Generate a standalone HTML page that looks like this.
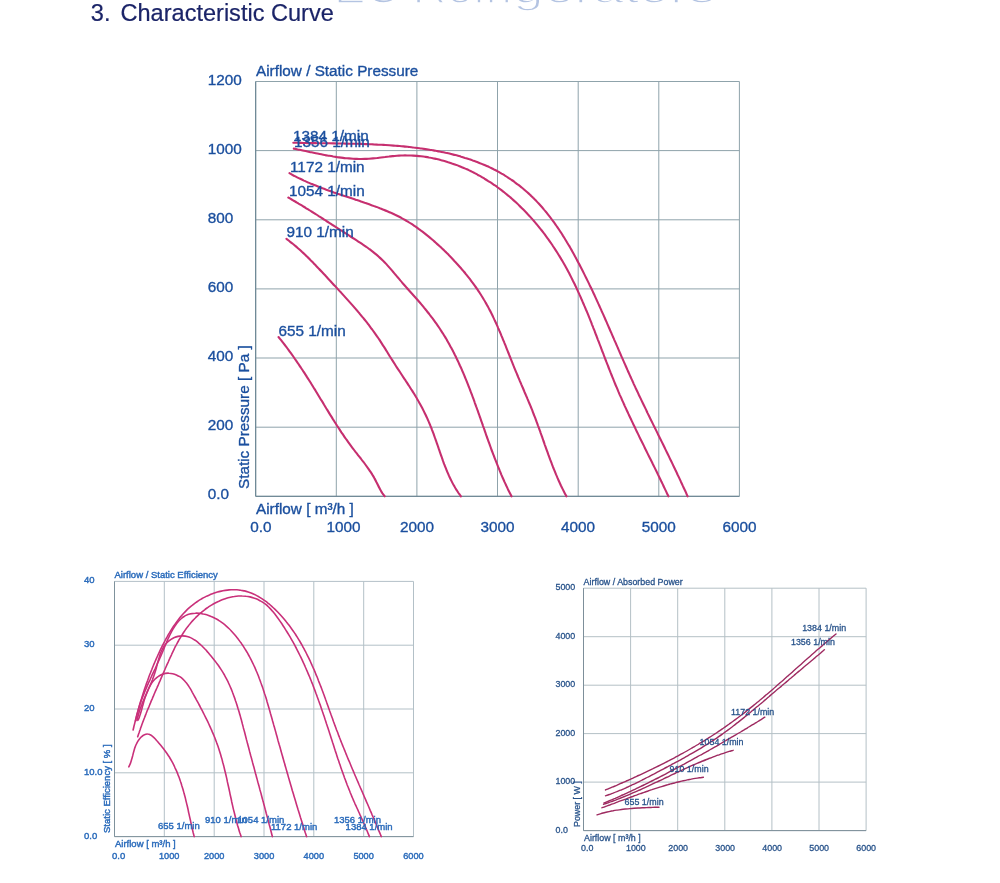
<!DOCTYPE html>
<html lang="en"><head><meta charset="utf-8"><title>Characteristic Curve</title>
<style>
html,body{margin:0;padding:0;background:#fff;}
body{width:1000px;height:883px;overflow:hidden;position:relative;font-family:"Liberation Sans",sans-serif;}
svg{position:absolute;left:0;top:0;display:block;}
svg text{font-family:"Liberation Sans",sans-serif;}
.g{stroke-width:1;fill:none;}
.c{fill:none;stroke-linecap:round;stroke-linejoin:round;}
</style></head><body>
<svg width="1000" height="883" viewBox="0 0 1000 883">

<text y="3.3" font-size="40" fill="#b4c4e2" stroke="#ffffff" stroke-width="1.5"><tspan x="334" textLength="178" lengthAdjust="spacingAndGlyphs">EC Refri</tspan><tspan x="513" textLength="203" lengthAdjust="spacingAndGlyphs">gerators</tspan></text>
<text y="21.3" font-size="23.55" fill="#1b2468" stroke="#1b2468" stroke-width="0.2"><tspan x="90.8">3.</tspan><tspan x="120.5">Characteristic Curve</tspan></text>

<g class="g" stroke="#8fa3ab">
<line x1="255.7" y1="81.5" x2="255.7" y2="496.3"/>
<line x1="336.3" y1="81.5" x2="336.3" y2="496.3"/>
<line x1="416.9" y1="81.5" x2="416.9" y2="496.3"/>
<line x1="497.5" y1="81.5" x2="497.5" y2="496.3"/>
<line x1="578.2" y1="81.5" x2="578.2" y2="496.3"/>
<line x1="658.8" y1="81.5" x2="658.8" y2="496.3"/>
<line x1="739.4" y1="81.5" x2="739.4" y2="496.3"/>
<line x1="255.7" y1="81.5" x2="739.4" y2="81.5"/>
<line x1="255.7" y1="150.6" x2="739.4" y2="150.6"/>
<line x1="255.7" y1="219.8" x2="739.4" y2="219.8"/>
<line x1="255.7" y1="288.9" x2="739.4" y2="288.9"/>
<line x1="255.7" y1="358.0" x2="739.4" y2="358.0"/>
<line x1="255.7" y1="427.2" x2="739.4" y2="427.2"/>
<line x1="255.7" y1="496.3" x2="739.4" y2="496.3"/>
</g>
<path class="g" stroke="#64808f" d="M255.7,81.5 V496.3 H739.4"/>
<g class="c" stroke="#c62f6f" stroke-width="2.1">
<path d="M293.3,142.7 C294.0,142.7 296.0,142.8 297.3,142.8 C298.7,142.8 300.0,142.9 301.3,142.9 C302.7,142.9 304.0,143.0 305.3,143.0 C306.7,143.0 308.0,143.0 309.4,143.1 C310.7,143.1 312.0,143.1 313.4,143.1 C314.7,143.1 316.0,143.2 317.4,143.2 C318.7,143.2 320.1,143.2 321.4,143.2 C322.7,143.3 324.1,143.3 325.4,143.3 C326.7,143.3 328.1,143.3 329.4,143.3 C330.7,143.4 332.1,143.4 333.4,143.4 C334.7,143.4 336.1,143.4 337.4,143.5 C338.8,143.5 340.1,143.5 341.4,143.5 C342.8,143.5 344.1,143.6 345.4,143.6 C346.8,143.6 348.1,143.6 349.4,143.7 C350.8,143.7 352.1,143.7 353.4,143.7 C354.8,143.8 356.1,143.8 357.4,143.8 C358.8,143.9 360.1,143.9 361.4,143.9 C362.8,144.0 364.1,144.0 365.5,144.1 C366.8,144.1 368.1,144.2 369.5,144.2 C370.8,144.3 372.1,144.3 373.5,144.4 C374.8,144.4 376.1,144.5 377.5,144.6 C378.8,144.6 380.1,144.7 381.5,144.8 C382.8,144.9 384.1,144.9 385.5,145.0 C386.8,145.1 388.1,145.2 389.5,145.3 C390.8,145.4 392.1,145.5 393.5,145.6 C394.8,145.7 396.2,145.8 397.5,145.9 C398.8,146.0 400.2,146.1 401.5,146.2 C402.8,146.3 404.2,146.5 405.5,146.6 C406.8,146.7 408.2,146.9 409.5,147.0 C410.8,147.2 412.2,147.3 413.5,147.5 C414.9,147.6 416.2,147.8 417.5,148.0 C418.9,148.2 420.2,148.3 421.5,148.5 C422.9,148.7 424.2,148.9 425.5,149.1 C426.9,149.3 428.2,149.5 429.5,149.7 C430.9,149.9 432.2,150.2 433.5,150.4 C434.9,150.6 436.2,150.9 437.5,151.1 C438.9,151.4 440.2,151.6 441.5,151.9 C442.8,152.2 444.2,152.5 445.5,152.8 C446.8,153.0 448.1,153.3 449.4,153.6 C450.7,154.0 452.0,154.3 453.4,154.6 C454.7,154.9 456.0,155.3 457.3,155.6 C458.6,156.0 459.9,156.3 461.1,156.7 C462.4,157.1 463.7,157.5 465.0,157.9 C466.3,158.2 467.6,158.7 468.8,159.1 C470.1,159.5 471.4,159.9 472.6,160.4 C473.9,160.8 475.1,161.3 476.4,161.7 C477.6,162.2 478.9,162.7 480.1,163.2 C481.4,163.7 482.6,164.2 483.8,164.7 C485.0,165.2 486.3,165.8 487.5,166.3 C488.7,166.9 489.9,167.4 491.1,168.0 C492.3,168.6 493.5,169.2 494.6,169.8 C495.8,170.4 497.0,171.0 498.1,171.6 C499.3,172.3 500.5,172.9 501.6,173.6 C502.8,174.3 503.9,174.9 505.0,175.6 C506.2,176.3 507.3,177.0 508.4,177.8 C509.5,178.5 510.6,179.2 511.7,180.0 C512.8,180.7 513.9,181.5 514.9,182.3 C516.0,183.1 517.1,183.9 518.1,184.7 C519.2,185.5 520.2,186.3 521.2,187.1 C522.3,188.0 523.3,188.8 524.3,189.7 C525.3,190.6 526.3,191.4 527.3,192.3 C528.3,193.2 529.3,194.1 530.3,195.0 C531.2,195.9 532.2,196.8 533.1,197.8 C534.1,198.7 535.0,199.7 536.0,200.6 C536.9,201.6 537.8,202.6 538.7,203.5 C539.6,204.5 540.5,205.5 541.4,206.5 C542.3,207.5 543.1,208.5 544.0,209.6 C544.9,210.6 545.7,211.6 546.6,212.6 C547.4,213.7 548.2,214.7 549.1,215.8 C549.9,216.8 550.7,217.9 551.5,219.0 C552.3,220.1 553.1,221.1 553.9,222.2 C554.7,223.3 555.4,224.4 556.2,225.5 C557.0,226.6 557.7,227.7 558.5,228.8 C559.2,229.9 560.0,231.1 560.7,232.2 C561.5,233.3 562.2,234.4 562.9,235.6 C563.6,236.7 564.3,237.9 565.0,239.0 C565.7,240.2 566.4,241.3 567.1,242.5 C567.8,243.6 568.5,244.8 569.2,245.9 C569.9,247.1 570.5,248.3 571.2,249.4 C571.9,250.6 572.5,251.8 573.2,253.0 C573.8,254.1 574.5,255.3 575.1,256.5 C575.8,257.7 576.4,258.9 577.0,260.1 C577.7,261.2 578.3,262.4 578.9,263.6 C579.6,264.8 580.2,266.0 580.8,267.2 C581.4,268.4 582.0,269.6 582.6,270.8 C583.2,272.0 583.8,273.2 584.4,274.4 C585.0,275.6 585.6,276.8 586.2,278.0 C586.8,279.2 587.4,280.4 588.0,281.6 C588.6,282.8 589.2,284.0 589.7,285.2 C590.3,286.4 590.9,287.6 591.5,288.8 C592.1,290.0 592.6,291.3 593.2,292.5 C593.8,293.7 594.3,294.9 594.9,296.1 C595.4,297.3 596.0,298.5 596.6,299.8 C597.1,301.0 597.7,302.2 598.2,303.4 C598.8,304.6 599.3,305.8 599.9,307.1 C600.4,308.3 601.0,309.5 601.5,310.7 C602.1,311.9 602.6,313.2 603.2,314.4 C603.7,315.6 604.2,316.8 604.8,318.0 C605.3,319.3 605.9,320.5 606.4,321.7 C606.9,322.9 607.5,324.2 608.0,325.4 C608.5,326.6 609.1,327.8 609.6,329.0 C610.1,330.3 610.7,331.5 611.2,332.7 C611.7,333.9 612.3,335.2 612.8,336.4 C613.3,337.6 613.9,338.8 614.4,340.1 C614.9,341.3 615.5,342.5 616.0,343.7 C616.5,345.0 617.1,346.2 617.6,347.4 C618.1,348.6 618.6,349.9 619.2,351.1 C619.7,352.3 620.2,353.5 620.8,354.8 C621.3,356.0 621.8,357.2 622.4,358.4 C622.9,359.7 623.5,360.9 624.0,362.1 C624.5,363.3 625.1,364.6 625.6,365.8 C626.2,367.0 626.7,368.2 627.2,369.4 C627.8,370.7 628.3,371.9 628.9,373.1 C629.4,374.3 630.0,375.5 630.5,376.8 C631.1,378.0 631.6,379.2 632.2,380.4 C632.7,381.6 633.3,382.8 633.8,384.1 C634.4,385.3 635.0,386.5 635.5,387.7 C636.1,388.9 636.7,390.1 637.2,391.3 C637.8,392.5 638.4,393.8 638.9,395.0 C639.5,396.2 640.1,397.4 640.7,398.6 C641.2,399.8 641.8,401.0 642.4,402.2 C643.0,403.4 643.5,404.6 644.1,405.8 C644.7,407.0 645.3,408.2 645.9,409.4 C646.5,410.7 647.0,411.9 647.6,413.1 C648.2,414.3 648.8,415.5 649.4,416.7 C650.0,417.9 650.6,419.1 651.1,420.3 C651.7,421.5 652.3,422.7 652.9,423.9 C653.5,425.1 654.1,426.3 654.7,427.5 C655.3,428.7 655.9,429.9 656.5,431.1 C657.1,432.3 657.6,433.5 658.2,434.7 C658.8,435.9 659.4,437.1 660.0,438.3 C660.6,439.5 661.2,440.7 661.8,441.9 C662.4,443.1 663.0,444.3 663.6,445.5 C664.2,446.7 664.7,447.9 665.3,449.1 C665.9,450.3 666.5,451.5 667.1,452.7 C667.7,454.0 668.3,455.2 668.9,456.4 C669.4,457.6 670.0,458.8 670.6,460.0 C671.2,461.2 671.8,462.4 672.4,463.6 C672.9,464.8 673.5,466.0 674.1,467.2 C674.7,468.4 675.3,469.6 675.8,470.8 C676.4,472.0 677.0,473.2 677.5,474.5 C678.1,475.7 678.7,476.9 679.3,478.1 C679.8,479.3 680.4,480.5 680.9,481.7 C681.5,482.9 682.1,484.1 682.6,485.4 C683.2,486.6 683.7,487.8 684.3,489.0 C684.9,490.2 685.4,491.4 686.0,492.6 C686.5,493.9 687.3,495.7 687.6,496.3"/>
<path d="M293.8,148.6 C294.5,148.7 296.4,149.1 297.7,149.4 C299.0,149.7 300.4,149.9 301.7,150.2 C303.0,150.5 304.3,150.8 305.6,151.0 C306.9,151.3 308.2,151.6 309.5,151.9 C310.9,152.2 312.2,152.4 313.5,152.7 C314.8,153.0 316.1,153.3 317.4,153.5 C318.7,153.8 320.0,154.1 321.4,154.3 C322.7,154.6 324.0,154.8 325.3,155.1 C326.6,155.3 327.9,155.6 329.2,155.8 C330.6,156.0 331.9,156.2 333.2,156.5 C334.5,156.7 335.8,156.9 337.2,157.1 C338.5,157.2 339.8,157.4 341.1,157.6 C342.4,157.8 343.8,157.9 345.1,158.1 C346.4,158.2 347.7,158.3 349.0,158.4 C350.4,158.5 351.7,158.6 353.0,158.7 C354.3,158.8 355.7,158.9 357.0,158.9 C358.3,158.9 359.6,159.0 361.0,159.0 C362.3,159.0 363.6,159.0 365.0,158.9 C366.3,158.9 367.6,158.8 369.0,158.7 C370.3,158.6 371.6,158.5 373.0,158.4 C374.3,158.3 375.6,158.1 377.0,158.0 C378.3,157.8 379.6,157.7 381.0,157.5 C382.3,157.3 383.6,157.1 385.0,157.0 C386.3,156.8 387.7,156.6 389.0,156.5 C390.3,156.3 391.7,156.2 393.0,156.1 C394.4,155.9 395.7,155.8 397.0,155.7 C398.4,155.6 399.7,155.6 401.0,155.5 C402.4,155.5 403.7,155.4 405.0,155.4 C406.4,155.4 407.7,155.5 409.0,155.5 C410.4,155.5 411.7,155.6 413.0,155.6 C414.4,155.7 415.7,155.8 417.0,155.9 C418.3,156.0 419.7,156.2 421.0,156.3 C422.3,156.5 423.6,156.7 424.9,156.8 C426.2,157.0 427.6,157.2 428.9,157.5 C430.2,157.7 431.5,157.9 432.8,158.2 C434.1,158.5 435.4,158.7 436.7,159.0 C438.0,159.3 439.3,159.6 440.6,160.0 C441.8,160.3 443.1,160.7 444.4,161.0 C445.7,161.4 447.0,161.8 448.2,162.2 C449.5,162.6 450.8,163.0 452.0,163.4 C453.3,163.8 454.5,164.3 455.8,164.8 C457.0,165.2 458.3,165.7 459.5,166.2 C460.7,166.7 462.0,167.2 463.2,167.7 C464.4,168.2 465.6,168.8 466.9,169.3 C468.1,169.9 469.3,170.4 470.5,171.0 C471.7,171.6 472.9,172.2 474.1,172.8 C475.2,173.4 476.4,174.0 477.6,174.7 C478.8,175.3 479.9,176.0 481.1,176.6 C482.2,177.3 483.4,178.0 484.5,178.7 C485.7,179.3 486.8,180.0 487.9,180.8 C489.0,181.5 490.2,182.2 491.3,182.9 C492.4,183.7 493.5,184.4 494.6,185.2 C495.7,185.9 496.8,186.7 497.8,187.5 C498.9,188.3 500.0,189.1 501.1,189.9 C502.1,190.7 503.2,191.5 504.2,192.3 C505.3,193.2 506.3,194.0 507.3,194.9 C508.4,195.7 509.4,196.6 510.4,197.4 C511.4,198.3 512.4,199.2 513.4,200.1 C514.4,201.0 515.4,201.9 516.4,202.8 C517.4,203.7 518.4,204.6 519.3,205.6 C520.3,206.5 521.2,207.4 522.2,208.4 C523.1,209.3 524.1,210.3 525.0,211.2 C526.0,212.2 526.9,213.2 527.8,214.2 C528.7,215.1 529.6,216.1 530.5,217.1 C531.4,218.1 532.3,219.1 533.2,220.1 C534.1,221.2 535.0,222.2 535.8,223.2 C536.7,224.2 537.6,225.3 538.4,226.3 C539.3,227.4 540.1,228.4 540.9,229.5 C541.8,230.5 542.6,231.6 543.4,232.7 C544.2,233.7 545.0,234.8 545.8,235.9 C546.6,237.0 547.4,238.1 548.2,239.1 C549.0,240.2 549.8,241.3 550.5,242.4 C551.3,243.5 552.1,244.7 552.8,245.8 C553.6,246.9 554.3,248.0 555.0,249.1 C555.8,250.3 556.5,251.4 557.2,252.5 C557.9,253.6 558.6,254.8 559.3,255.9 C560.0,257.1 560.7,258.2 561.4,259.4 C562.1,260.5 562.7,261.7 563.4,262.8 C564.1,264.0 564.7,265.1 565.4,266.3 C566.0,267.5 566.7,268.6 567.3,269.8 C567.9,271.0 568.6,272.2 569.2,273.3 C569.8,274.5 570.4,275.7 571.0,276.9 C571.6,278.1 572.2,279.3 572.8,280.5 C573.4,281.6 574.0,282.8 574.6,284.0 C575.1,285.2 575.7,286.4 576.3,287.6 C576.8,288.8 577.4,290.0 578.0,291.3 C578.5,292.5 579.1,293.7 579.6,294.9 C580.2,296.1 580.7,297.3 581.2,298.5 C581.8,299.7 582.3,301.0 582.8,302.2 C583.4,303.4 583.9,304.6 584.4,305.9 C584.9,307.1 585.4,308.3 585.9,309.5 C586.5,310.8 587.0,312.0 587.5,313.2 C588.0,314.5 588.5,315.7 589.0,316.9 C589.5,318.2 590.0,319.4 590.5,320.6 C591.0,321.9 591.5,323.1 591.9,324.3 C592.4,325.6 592.9,326.8 593.4,328.1 C593.9,329.3 594.4,330.6 594.9,331.8 C595.3,333.0 595.8,334.3 596.3,335.5 C596.8,336.8 597.3,338.0 597.7,339.3 C598.2,340.5 598.7,341.8 599.2,343.0 C599.6,344.2 600.1,345.5 600.6,346.7 C601.1,348.0 601.5,349.2 602.0,350.5 C602.5,351.7 603.0,353.0 603.5,354.2 C603.9,355.5 604.4,356.7 604.9,358.0 C605.4,359.2 605.9,360.5 606.3,361.7 C606.8,362.9 607.3,364.2 607.8,365.4 C608.3,366.7 608.8,367.9 609.2,369.2 C609.7,370.4 610.2,371.6 610.7,372.9 C611.2,374.1 611.7,375.4 612.2,376.6 C612.7,377.8 613.2,379.1 613.7,380.3 C614.2,381.6 614.7,382.8 615.2,384.0 C615.7,385.3 616.3,386.5 616.8,387.7 C617.3,389.0 617.8,390.2 618.3,391.4 C618.9,392.6 619.4,393.9 619.9,395.1 C620.5,396.3 621.0,397.5 621.6,398.8 C622.1,400.0 622.6,401.2 623.2,402.4 C623.7,403.6 624.3,404.9 624.8,406.1 C625.4,407.3 625.9,408.5 626.5,409.7 C627.1,410.9 627.6,412.1 628.2,413.4 C628.8,414.6 629.3,415.8 629.9,417.0 C630.5,418.2 631.0,419.4 631.6,420.6 C632.2,421.8 632.7,423.0 633.3,424.2 C633.9,425.4 634.5,426.6 635.1,427.8 C635.6,429.1 636.2,430.3 636.8,431.5 C637.4,432.7 638.0,433.9 638.6,435.1 C639.1,436.3 639.7,437.5 640.3,438.7 C640.9,439.9 641.5,441.1 642.1,442.3 C642.7,443.5 643.3,444.7 643.9,445.9 C644.5,447.1 645.0,448.3 645.6,449.5 C646.2,450.7 646.8,451.9 647.4,453.1 C648.0,454.3 648.6,455.5 649.2,456.7 C649.8,457.9 650.4,459.1 651.0,460.3 C651.6,461.5 652.2,462.7 652.7,463.8 C653.3,465.0 653.9,466.2 654.5,467.4 C655.1,468.6 655.7,469.8 656.3,471.0 C656.9,472.2 657.5,473.4 658.0,474.6 C658.6,475.8 659.2,477.0 659.8,478.2 C660.4,479.4 661.0,480.6 661.5,481.8 C662.1,483.0 662.7,484.3 663.3,485.5 C663.8,486.7 664.4,487.9 665.0,489.1 C665.6,490.3 666.1,491.5 666.7,492.7 C667.3,493.9 668.1,495.7 668.4,496.3"/>
<path d="M289.5,173.2 C290.1,173.6 291.8,174.6 293.0,175.2 C294.2,175.8 295.4,176.5 296.6,177.1 C297.8,177.7 299.0,178.3 300.2,178.8 C301.4,179.4 302.6,180.0 303.9,180.6 C305.1,181.1 306.3,181.7 307.5,182.2 C308.8,182.7 310.0,183.3 311.2,183.8 C312.5,184.3 313.7,184.8 315.0,185.3 C316.2,185.8 317.5,186.3 318.7,186.8 C320.0,187.3 321.2,187.8 322.5,188.3 C323.7,188.7 325.0,189.2 326.3,189.7 C327.5,190.1 328.8,190.6 330.1,191.0 C331.4,191.5 332.6,191.9 333.9,192.4 C335.2,192.8 336.5,193.2 337.7,193.7 C339.0,194.1 340.3,194.5 341.6,195.0 C342.9,195.4 344.1,195.8 345.4,196.3 C346.7,196.7 348.0,197.1 349.3,197.5 C350.5,198.0 351.8,198.4 353.1,198.8 C354.4,199.2 355.7,199.7 357.0,200.1 C358.2,200.5 359.5,201.0 360.8,201.4 C362.1,201.8 363.4,202.3 364.6,202.7 C365.9,203.1 367.2,203.6 368.4,204.0 C369.7,204.5 371.0,204.9 372.3,205.4 C373.5,205.8 374.8,206.3 376.0,206.8 C377.3,207.2 378.6,207.7 379.8,208.2 C381.1,208.7 382.3,209.2 383.6,209.7 C384.8,210.2 386.0,210.7 387.3,211.2 C388.5,211.7 389.7,212.2 391.0,212.8 C392.2,213.3 393.4,213.9 394.6,214.5 C395.8,215.0 397.0,215.6 398.2,216.2 C399.4,216.8 400.6,217.4 401.7,218.1 C402.9,218.7 404.0,219.3 405.2,220.0 C406.3,220.7 407.5,221.4 408.6,222.1 C409.8,222.8 410.9,223.5 412.0,224.2 C413.1,224.9 414.2,225.7 415.3,226.4 C416.4,227.2 417.5,228.0 418.6,228.8 C419.7,229.5 420.7,230.3 421.8,231.2 C422.9,232.0 423.9,232.8 425.0,233.6 C426.0,234.5 427.1,235.3 428.1,236.1 C429.2,237.0 430.2,237.9 431.2,238.7 C432.2,239.6 433.3,240.5 434.3,241.4 C435.3,242.3 436.3,243.2 437.3,244.1 C438.3,245.0 439.3,245.9 440.3,246.8 C441.3,247.7 442.3,248.7 443.3,249.6 C444.2,250.5 445.2,251.5 446.2,252.4 C447.1,253.4 448.1,254.3 449.0,255.3 C450.0,256.3 450.9,257.2 451.9,258.2 C452.8,259.2 453.7,260.2 454.6,261.2 C455.6,262.2 456.5,263.2 457.4,264.2 C458.3,265.2 459.2,266.2 460.1,267.2 C461.0,268.2 461.8,269.2 462.7,270.3 C463.6,271.3 464.4,272.3 465.3,273.3 C466.1,274.4 467.0,275.4 467.8,276.5 C468.7,277.5 469.5,278.6 470.3,279.6 C471.1,280.7 471.9,281.8 472.7,282.8 C473.5,283.9 474.3,285.0 475.1,286.1 C475.8,287.2 476.6,288.3 477.4,289.4 C478.1,290.5 478.8,291.6 479.6,292.7 C480.3,293.8 481.0,294.9 481.7,296.0 C482.4,297.2 483.1,298.3 483.8,299.5 C484.5,300.6 485.2,301.8 485.8,302.9 C486.5,304.1 487.1,305.2 487.8,306.4 C488.4,307.6 489.0,308.8 489.6,309.9 C490.3,311.1 490.9,312.3 491.5,313.5 C492.1,314.7 492.6,315.9 493.2,317.1 C493.8,318.3 494.4,319.6 494.9,320.8 C495.5,322.0 496.1,323.2 496.6,324.4 C497.2,325.7 497.7,326.9 498.2,328.1 C498.8,329.4 499.3,330.6 499.8,331.8 C500.4,333.1 500.9,334.3 501.4,335.6 C501.9,336.8 502.4,338.1 502.9,339.3 C503.4,340.6 504.0,341.8 504.5,343.1 C505.0,344.3 505.5,345.6 506.0,346.8 C506.5,348.1 507.0,349.4 507.5,350.6 C508.0,351.9 508.5,353.1 509.0,354.4 C509.5,355.6 510.0,356.9 510.5,358.1 C511.0,359.4 511.5,360.7 512.0,361.9 C512.5,363.2 513.0,364.4 513.5,365.7 C514.0,366.9 514.5,368.2 515.0,369.4 C515.5,370.7 516.0,371.9 516.6,373.1 C517.1,374.4 517.6,375.6 518.1,376.9 C518.6,378.1 519.2,379.3 519.7,380.6 C520.2,381.8 520.8,383.0 521.3,384.3 C521.8,385.5 522.3,386.7 522.9,388.0 C523.4,389.2 523.9,390.4 524.4,391.7 C525.0,392.9 525.5,394.1 526.0,395.4 C526.5,396.6 527.1,397.8 527.6,399.1 C528.1,400.3 528.6,401.5 529.1,402.8 C529.7,404.0 530.2,405.3 530.7,406.5 C531.2,407.7 531.7,409.0 532.2,410.2 C532.7,411.5 533.2,412.7 533.6,414.0 C534.1,415.2 534.6,416.5 535.1,417.7 C535.6,419.0 536.0,420.2 536.5,421.5 C537.0,422.7 537.4,424.0 537.9,425.3 C538.4,426.5 538.8,427.8 539.3,429.1 C539.7,430.3 540.2,431.6 540.6,432.8 C541.1,434.1 541.5,435.4 542.0,436.7 C542.4,437.9 542.9,439.2 543.3,440.5 C543.8,441.7 544.2,443.0 544.6,444.3 C545.1,445.5 545.5,446.8 546.0,448.1 C546.4,449.3 546.9,450.6 547.4,451.9 C547.8,453.1 548.3,454.4 548.7,455.7 C549.2,456.9 549.7,458.2 550.1,459.4 C550.6,460.7 551.1,462.0 551.6,463.2 C552.0,464.5 552.5,465.7 553.0,467.0 C553.5,468.2 554.0,469.5 554.5,470.7 C555.0,472.0 555.5,473.2 556.0,474.4 C556.6,475.7 557.1,476.9 557.6,478.2 C558.1,479.4 558.7,480.6 559.2,481.8 C559.8,483.1 560.4,484.3 560.9,485.5 C561.5,486.7 562.1,487.9 562.7,489.1 C563.3,490.3 563.9,491.5 564.5,492.7 C565.1,493.9 566.1,495.7 566.4,496.3"/>
<path d="M288.3,197.5 C288.8,197.8 290.6,198.8 291.7,199.5 C292.9,200.2 294.0,200.9 295.2,201.5 C296.3,202.2 297.5,202.9 298.6,203.6 C299.8,204.3 300.9,205.0 302.1,205.7 C303.2,206.4 304.4,207.1 305.5,207.8 C306.6,208.5 307.8,209.2 308.9,209.9 C310.1,210.6 311.2,211.3 312.3,212.0 C313.5,212.7 314.6,213.4 315.7,214.2 C316.9,214.9 318.0,215.6 319.1,216.3 C320.3,217.0 321.4,217.8 322.5,218.5 C323.6,219.2 324.8,219.9 325.9,220.6 C327.0,221.4 328.1,222.1 329.3,222.8 C330.4,223.5 331.5,224.3 332.6,225.0 C333.8,225.7 334.9,226.4 336.0,227.2 C337.2,227.9 338.3,228.6 339.4,229.4 C340.5,230.1 341.7,230.8 342.8,231.5 C343.9,232.2 345.0,233.0 346.2,233.7 C347.3,234.4 348.4,235.1 349.6,235.8 C350.7,236.6 351.8,237.3 352.9,238.0 C354.1,238.7 355.2,239.4 356.3,240.2 C357.4,240.9 358.6,241.6 359.7,242.4 C360.8,243.1 361.9,243.8 363.0,244.6 C364.1,245.3 365.2,246.1 366.3,246.9 C367.4,247.6 368.4,248.4 369.5,249.2 C370.6,250.0 371.6,250.8 372.7,251.6 C373.7,252.4 374.7,253.2 375.8,254.1 C376.8,254.9 377.8,255.8 378.8,256.7 C379.7,257.6 380.7,258.5 381.7,259.4 C382.6,260.3 383.6,261.3 384.5,262.2 C385.4,263.2 386.3,264.1 387.2,265.1 C388.1,266.1 389.0,267.1 389.9,268.1 C390.8,269.1 391.7,270.1 392.5,271.1 C393.4,272.2 394.3,273.2 395.1,274.2 C396.0,275.2 396.9,276.3 397.7,277.3 C398.6,278.3 399.5,279.4 400.3,280.4 C401.2,281.4 402.1,282.5 402.9,283.5 C403.8,284.5 404.7,285.5 405.6,286.5 C406.5,287.5 407.3,288.5 408.2,289.5 C409.1,290.5 410.0,291.5 410.9,292.5 C411.8,293.5 412.7,294.5 413.6,295.5 C414.5,296.5 415.4,297.5 416.3,298.5 C417.2,299.5 418.1,300.5 418.9,301.5 C419.8,302.6 420.7,303.6 421.6,304.6 C422.4,305.6 423.3,306.7 424.1,307.7 C425.0,308.7 425.8,309.8 426.7,310.8 C427.5,311.9 428.4,313.0 429.2,314.0 C430.0,315.1 430.8,316.1 431.6,317.2 C432.5,318.3 433.3,319.4 434.0,320.4 C434.8,321.5 435.6,322.6 436.4,323.7 C437.2,324.8 437.9,325.9 438.7,327.0 C439.4,328.1 440.2,329.2 440.9,330.4 C441.6,331.5 442.4,332.6 443.1,333.7 C443.8,334.9 444.5,336.0 445.2,337.1 C445.9,338.3 446.5,339.4 447.2,340.6 C447.9,341.7 448.5,342.9 449.2,344.1 C449.8,345.2 450.5,346.4 451.1,347.6 C451.7,348.7 452.3,349.9 453.0,351.1 C453.6,352.3 454.2,353.5 454.8,354.7 C455.4,355.8 456.0,357.0 456.5,358.2 C457.1,359.4 457.7,360.6 458.3,361.9 C458.8,363.1 459.4,364.3 459.9,365.5 C460.5,366.7 461.0,367.9 461.6,369.1 C462.1,370.4 462.6,371.6 463.2,372.8 C463.7,374.0 464.2,375.3 464.7,376.5 C465.2,377.7 465.7,379.0 466.2,380.2 C466.7,381.5 467.2,382.7 467.7,383.9 C468.2,385.2 468.7,386.4 469.2,387.7 C469.7,388.9 470.2,390.2 470.6,391.4 C471.1,392.7 471.6,393.9 472.1,395.2 C472.5,396.5 473.0,397.7 473.5,399.0 C473.9,400.2 474.4,401.5 474.8,402.8 C475.3,404.0 475.8,405.3 476.2,406.6 C476.7,407.8 477.1,409.1 477.6,410.4 C478.0,411.6 478.5,412.9 478.9,414.2 C479.4,415.4 479.8,416.7 480.3,418.0 C480.7,419.2 481.1,420.5 481.6,421.8 C482.0,423.1 482.5,424.3 482.9,425.6 C483.4,426.9 483.8,428.1 484.3,429.4 C484.7,430.7 485.1,431.9 485.6,433.2 C486.0,434.5 486.5,435.8 486.9,437.0 C487.4,438.3 487.8,439.6 488.3,440.8 C488.8,442.1 489.2,443.4 489.7,444.6 C490.1,445.9 490.6,447.1 491.0,448.4 C491.5,449.7 492.0,450.9 492.4,452.2 C492.9,453.4 493.4,454.7 493.9,455.9 C494.3,457.2 494.8,458.5 495.3,459.7 C495.8,461.0 496.3,462.2 496.8,463.4 C497.3,464.7 497.8,465.9 498.3,467.2 C498.8,468.4 499.3,469.6 499.8,470.9 C500.3,472.1 500.8,473.3 501.3,474.6 C501.9,475.8 502.4,477.0 502.9,478.3 C503.5,479.5 504.0,480.7 504.5,481.9 C505.1,483.1 505.7,484.3 506.2,485.5 C506.8,486.7 507.4,488.0 507.9,489.2 C508.5,490.4 509.1,491.5 509.7,492.7 C510.3,493.9 511.2,495.7 511.5,496.3"/>
<path d="M286.4,238.8 C286.9,239.2 288.6,240.4 289.6,241.3 C290.7,242.1 291.8,242.9 292.8,243.8 C293.8,244.6 294.9,245.5 295.9,246.4 C296.9,247.3 297.9,248.1 298.9,249.0 C299.9,249.9 300.9,250.8 301.9,251.8 C302.9,252.7 303.9,253.6 304.9,254.5 C305.8,255.4 306.8,256.4 307.8,257.3 C308.7,258.3 309.7,259.2 310.6,260.2 C311.6,261.1 312.5,262.1 313.4,263.0 C314.4,264.0 315.3,265.0 316.2,265.9 C317.2,266.9 318.1,267.9 319.0,268.9 C320.0,269.8 320.9,270.8 321.8,271.8 C322.7,272.8 323.6,273.8 324.6,274.8 C325.5,275.8 326.4,276.7 327.3,277.7 C328.2,278.7 329.1,279.7 330.1,280.7 C331.0,281.7 331.9,282.7 332.8,283.7 C333.7,284.7 334.7,285.6 335.6,286.6 C336.5,287.6 337.4,288.6 338.3,289.6 C339.2,290.6 340.1,291.6 341.1,292.6 C342.0,293.6 342.9,294.6 343.8,295.6 C344.7,296.6 345.6,297.6 346.5,298.6 C347.4,299.6 348.3,300.6 349.2,301.6 C350.1,302.6 351.0,303.6 351.9,304.6 C352.8,305.6 353.7,306.6 354.5,307.6 C355.4,308.7 356.3,309.7 357.2,310.7 C358.0,311.7 358.9,312.7 359.8,313.8 C360.6,314.8 361.5,315.8 362.3,316.9 C363.2,317.9 364.0,318.9 364.9,320.0 C365.7,321.0 366.5,322.1 367.4,323.1 C368.2,324.2 369.0,325.2 369.8,326.3 C370.6,327.4 371.4,328.5 372.2,329.5 C373.0,330.6 373.8,331.7 374.6,332.8 C375.4,333.9 376.2,335.0 376.9,336.1 C377.7,337.2 378.4,338.3 379.2,339.4 C379.9,340.5 380.6,341.6 381.4,342.8 C382.1,343.9 382.8,345.0 383.5,346.2 C384.3,347.3 385.0,348.5 385.7,349.6 C386.4,350.7 387.1,351.9 387.8,353.0 C388.5,354.2 389.2,355.3 389.9,356.5 C390.7,357.6 391.4,358.8 392.1,359.9 C392.8,361.1 393.5,362.2 394.3,363.3 C395.0,364.5 395.7,365.6 396.4,366.7 C397.2,367.9 397.9,369.0 398.7,370.1 C399.4,371.2 400.2,372.4 400.9,373.5 C401.6,374.6 402.4,375.7 403.1,376.9 C403.9,378.0 404.6,379.1 405.4,380.2 C406.1,381.4 406.9,382.5 407.6,383.6 C408.3,384.8 409.1,385.9 409.8,387.0 C410.5,388.1 411.2,389.3 412.0,390.4 C412.7,391.6 413.4,392.7 414.1,393.8 C414.8,395.0 415.5,396.1 416.2,397.3 C416.9,398.4 417.5,399.6 418.2,400.8 C418.9,401.9 419.5,403.1 420.2,404.3 C420.8,405.4 421.4,406.6 422.1,407.8 C422.7,409.0 423.3,410.2 423.9,411.4 C424.5,412.6 425.1,413.8 425.7,415.0 C426.2,416.2 426.8,417.4 427.4,418.6 C427.9,419.9 428.5,421.1 429.0,422.3 C429.5,423.5 430.0,424.8 430.5,426.0 C431.1,427.3 431.5,428.5 432.0,429.8 C432.5,431.0 433.0,432.3 433.5,433.6 C433.9,434.8 434.4,436.1 434.8,437.4 C435.3,438.6 435.7,439.9 436.2,441.2 C436.6,442.5 437.1,443.8 437.5,445.0 C437.9,446.3 438.4,447.6 438.8,448.9 C439.3,450.2 439.7,451.4 440.1,452.7 C440.6,454.0 441.0,455.3 441.5,456.5 C441.9,457.8 442.4,459.1 442.8,460.4 C443.3,461.6 443.7,462.9 444.2,464.2 C444.7,465.4 445.2,466.7 445.7,467.9 C446.2,469.2 446.7,470.4 447.2,471.7 C447.7,472.9 448.3,474.1 448.8,475.4 C449.4,476.6 449.9,477.8 450.5,479.0 C451.1,480.2 451.7,481.4 452.3,482.6 C452.9,483.8 453.6,485.0 454.3,486.1 C454.9,487.3 455.6,488.5 456.3,489.6 C457.0,490.7 457.8,491.9 458.5,493.0 C459.3,494.1 460.5,495.7 460.9,496.3"/>
<path d="M278.5,337.0 C278.9,337.5 280.2,339.1 281.1,340.2 C281.9,341.3 282.7,342.3 283.6,343.4 C284.4,344.5 285.2,345.6 286.1,346.6 C286.9,347.7 287.7,348.8 288.5,349.9 C289.3,351.0 290.1,352.1 290.9,353.2 C291.7,354.3 292.5,355.4 293.3,356.5 C294.1,357.6 294.8,358.8 295.6,359.9 C296.4,361.0 297.2,362.1 297.9,363.2 C298.7,364.4 299.5,365.5 300.2,366.6 C301.0,367.8 301.7,368.9 302.5,370.0 C303.2,371.2 304.0,372.3 304.7,373.4 C305.4,374.6 306.2,375.7 306.9,376.9 C307.6,378.0 308.4,379.2 309.1,380.3 C309.8,381.5 310.6,382.6 311.3,383.8 C312.0,384.9 312.7,386.1 313.4,387.2 C314.2,388.4 314.9,389.6 315.6,390.7 C316.3,391.9 317.0,393.0 317.7,394.2 C318.4,395.4 319.1,396.5 319.8,397.7 C320.5,398.9 321.2,400.0 322.0,401.2 C322.7,402.3 323.4,403.5 324.1,404.7 C324.8,405.8 325.5,407.0 326.2,408.2 C326.9,409.3 327.6,410.5 328.3,411.6 C329.0,412.8 329.7,414.0 330.4,415.1 C331.2,416.3 331.9,417.4 332.6,418.6 C333.3,419.7 334.0,420.9 334.7,422.0 C335.5,423.2 336.2,424.3 336.9,425.5 C337.7,426.6 338.4,427.7 339.2,428.9 C339.9,430.0 340.6,431.1 341.4,432.3 C342.2,433.4 342.9,434.5 343.7,435.6 C344.4,436.8 345.2,437.9 346.0,439.0 C346.8,440.1 347.6,441.2 348.4,442.3 C349.2,443.4 350.0,444.5 350.8,445.6 C351.6,446.7 352.4,447.8 353.2,448.8 C354.1,449.9 354.9,451.0 355.7,452.1 C356.6,453.1 357.4,454.2 358.2,455.3 C359.1,456.4 359.9,457.4 360.8,458.5 C361.6,459.6 362.4,460.7 363.2,461.7 C364.1,462.8 364.9,463.9 365.7,465.0 C366.5,466.1 367.3,467.2 368.1,468.3 C368.9,469.4 369.6,470.5 370.4,471.7 C371.1,472.8 371.9,473.9 372.6,475.1 C373.3,476.2 374.0,477.4 374.6,478.6 C375.3,479.8 375.9,481.0 376.5,482.2 C377.2,483.4 377.7,484.7 378.3,485.9 C379.0,487.1 379.5,488.4 380.2,489.5 C380.9,490.7 381.5,491.9 382.3,493.1 C383.1,494.2 384.4,495.8 384.8,496.3"/>
</g>
<g fill="#1b4f9e" font-size="15.3" stroke="#1b4f9e" stroke-width="0.35">
<text x="256" y="76" >Airflow / Static Pressure</text>
<text x="207.7" y="84.8" >1200</text>
<text x="207.7" y="153.8" >1000</text>
<text x="207.7" y="222.8" >800</text>
<text x="207.7" y="291.9" >600</text>
<text x="207.7" y="361" >400</text>
<text x="207.7" y="430" >200</text>
<text x="207.7" y="499.1" >0.0</text>
<text x="256" y="514" >Airflow [ m³/h ]</text>
<text x="250.2" y="532" >0.0</text>
<text x="326.5" y="532" >1000</text>
<text x="400" y="532" >2000</text>
<text x="480.5" y="532" >3000</text>
<text x="561" y="532" >4000</text>
<text x="641.8" y="532" >5000</text>
<text x="722.5" y="532" >6000</text>
<text x="0" y="0" transform="translate(249,489) rotate(-90)">Static Pressure [ Pa ]</text>
<text x="293" y="141.2" >1384 1/min</text>
<text x="294" y="147" >1356 1/min</text>
<text x="290" y="172" >1172 1/min</text>
<text x="289" y="195.5" >1054 1/min</text>
<text x="286.5" y="237" >910 1/min</text>
<text x="278.5" y="335.5" >655 1/min</text>
</g>
<g class="g" stroke="#b3c0c7">
<line x1="114.5" y1="581.4" x2="114.5" y2="836.6"/>
<line x1="164.3" y1="581.4" x2="164.3" y2="836.6"/>
<line x1="214.2" y1="581.4" x2="214.2" y2="836.6"/>
<line x1="264.0" y1="581.4" x2="264.0" y2="836.6"/>
<line x1="313.8" y1="581.4" x2="313.8" y2="836.6"/>
<line x1="363.7" y1="581.4" x2="363.7" y2="836.6"/>
<line x1="413.5" y1="581.4" x2="413.5" y2="836.6"/>
<line x1="114.5" y1="581.4" x2="413.5" y2="581.4"/>
<line x1="114.5" y1="645.2" x2="413.5" y2="645.2"/>
<line x1="114.5" y1="709.0" x2="413.5" y2="709.0"/>
<line x1="114.5" y1="772.8" x2="413.5" y2="772.8"/>
<line x1="114.5" y1="836.6" x2="413.5" y2="836.6"/>
</g>
<path class="g" stroke="#7f929c" d="M114.5,581.4 V836.6 H413.5"/>
<g class="c" stroke="#c9307a" stroke-width="1.6">
<path d="M133.1,730.0 C133.3,729.3 133.7,727.4 134.0,726.0 C134.4,724.7 134.7,723.4 135.0,722.1 C135.3,720.8 135.7,719.5 136.0,718.2 C136.3,716.9 136.7,715.6 137.0,714.3 C137.4,713.0 137.7,711.7 138.1,710.4 C138.4,709.1 138.8,707.9 139.1,706.6 C139.5,705.3 139.9,704.0 140.2,702.8 C140.6,701.5 141.0,700.2 141.4,699.0 C141.8,697.7 142.2,696.4 142.6,695.2 C143.0,693.9 143.4,692.7 143.8,691.4 C144.2,690.2 144.6,688.9 145.0,687.7 C145.5,686.4 145.9,685.2 146.3,683.9 C146.8,682.7 147.2,681.5 147.7,680.2 C148.1,679.0 148.6,677.8 149.0,676.5 C149.5,675.3 150.0,674.1 150.5,672.8 C150.9,671.6 151.4,670.4 151.9,669.2 C152.4,667.9 152.9,666.7 153.4,665.5 C153.9,664.3 154.5,663.0 155.0,661.8 C155.5,660.6 156.0,659.4 156.6,658.2 C157.1,656.9 157.7,655.7 158.2,654.5 C158.8,653.3 159.4,652.1 159.9,650.9 C160.5,649.6 161.1,648.4 161.7,647.2 C162.3,646.0 162.9,644.8 163.5,643.6 C164.1,642.4 164.8,641.2 165.4,640.0 C166.1,638.8 166.7,637.6 167.4,636.4 C168.0,635.2 168.7,634.0 169.4,632.9 C170.1,631.7 170.8,630.5 171.5,629.4 C172.3,628.2 173.0,627.1 173.7,626.0 C174.5,624.9 175.3,623.8 176.1,622.7 C176.9,621.6 177.7,620.5 178.5,619.4 C179.3,618.4 180.2,617.3 181.0,616.3 C181.9,615.3 182.8,614.3 183.7,613.3 C184.6,612.3 185.5,611.4 186.5,610.4 C187.4,609.5 188.4,608.6 189.4,607.7 C190.4,606.8 191.4,605.9 192.5,605.1 C193.5,604.2 194.6,603.4 195.7,602.6 C196.8,601.9 197.9,601.1 199.0,600.4 C200.2,599.7 201.3,599.0 202.5,598.3 C203.7,597.7 204.9,597.0 206.1,596.4 C207.3,595.8 208.6,595.3 209.8,594.8 C211.0,594.2 212.3,593.8 213.6,593.3 C214.8,592.9 216.1,592.5 217.4,592.1 C218.7,591.7 220.0,591.4 221.3,591.1 C222.6,590.8 223.9,590.6 225.2,590.4 C226.5,590.2 227.8,590.0 229.1,589.9 C230.4,589.8 231.7,589.8 233.0,589.7 C234.3,589.7 235.6,589.8 236.9,589.8 C238.2,589.9 239.4,590.1 240.7,590.2 C242.0,590.4 243.3,590.7 244.5,590.9 C245.7,591.2 247.0,591.6 248.2,592.0 C249.4,592.4 250.6,592.8 251.8,593.3 C253.0,593.8 254.2,594.3 255.4,594.9 C256.6,595.5 257.7,596.1 258.9,596.8 C260.0,597.5 261.1,598.2 262.2,598.9 C263.3,599.6 264.4,600.4 265.5,601.2 C266.6,602.0 267.7,602.9 268.7,603.7 C269.8,604.6 270.8,605.5 271.8,606.4 C272.8,607.3 273.8,608.2 274.8,609.1 C275.8,610.1 276.8,611.1 277.7,612.0 C278.7,613.0 279.6,614.0 280.5,615.0 C281.4,616.0 282.3,617.0 283.2,618.0 C284.1,619.1 284.9,620.1 285.8,621.1 C286.6,622.2 287.5,623.2 288.3,624.3 C289.1,625.3 289.9,626.4 290.7,627.5 C291.5,628.6 292.3,629.7 293.0,630.7 C293.8,631.8 294.5,632.9 295.3,634.0 C296.0,635.2 296.7,636.3 297.4,637.4 C298.1,638.5 298.8,639.7 299.5,640.8 C300.2,641.9 300.8,643.1 301.5,644.2 C302.2,645.4 302.8,646.6 303.4,647.7 C304.1,648.9 304.7,650.1 305.3,651.2 C305.9,652.4 306.5,653.6 307.1,654.8 C307.7,656.0 308.3,657.2 308.9,658.4 C309.5,659.6 310.0,660.8 310.6,662.0 C311.1,663.2 311.7,664.4 312.2,665.6 C312.8,666.9 313.3,668.1 313.9,669.3 C314.4,670.5 314.9,671.8 315.4,673.0 C315.9,674.2 316.4,675.5 317.0,676.7 C317.5,678.0 318.0,679.2 318.4,680.5 C318.9,681.7 319.4,683.0 319.9,684.2 C320.4,685.5 320.9,686.7 321.4,688.0 C321.8,689.2 322.3,690.5 322.8,691.8 C323.2,693.0 323.7,694.3 324.2,695.5 C324.6,696.8 325.1,698.1 325.5,699.3 C326.0,700.6 326.5,701.9 326.9,703.1 C327.4,704.4 327.8,705.7 328.3,706.9 C328.7,708.2 329.2,709.5 329.6,710.7 C330.1,712.0 330.6,713.3 331.0,714.5 C331.5,715.8 331.9,717.1 332.4,718.3 C332.8,719.6 333.3,720.9 333.7,722.1 C334.2,723.4 334.7,724.6 335.1,725.9 C335.6,727.2 336.1,728.4 336.5,729.7 C337.0,730.9 337.5,732.2 338.0,733.4 C338.4,734.7 338.9,735.9 339.4,737.2 C339.9,738.4 340.4,739.6 340.8,740.9 C341.3,742.1 341.8,743.4 342.3,744.6 C342.8,745.8 343.3,747.1 343.8,748.3 C344.3,749.5 344.8,750.8 345.3,752.0 C345.8,753.2 346.3,754.5 346.8,755.7 C347.3,756.9 347.8,758.1 348.3,759.4 C348.8,760.6 349.4,761.8 349.9,763.0 C350.4,764.3 350.9,765.5 351.4,766.7 C351.9,767.9 352.4,769.2 353.0,770.4 C353.5,771.6 354.0,772.8 354.5,774.0 C355.0,775.3 355.6,776.5 356.1,777.7 C356.6,778.9 357.1,780.1 357.7,781.4 C358.2,782.6 358.7,783.8 359.2,785.0 C359.8,786.2 360.3,787.4 360.8,788.7 C361.4,789.9 361.9,791.1 362.4,792.3 C362.9,793.5 363.5,794.8 364.0,796.0 C364.5,797.2 365.1,798.4 365.6,799.6 C366.1,800.9 366.6,802.1 367.2,803.3 C367.7,804.5 368.2,805.7 368.8,807.0 C369.3,808.2 369.8,809.4 370.3,810.6 C370.9,811.9 371.4,813.1 371.9,814.3 C372.5,815.6 373.0,816.8 373.5,818.0 C374.0,819.2 374.6,820.5 375.1,821.7 C375.6,822.9 376.1,824.2 376.6,825.4 C377.2,826.7 377.7,827.9 378.2,829.1 C378.7,830.4 379.2,831.6 379.8,832.9 C380.3,834.1 381.0,836.0 381.3,836.6"/>
<path d="M137.7,736.8 C137.9,736.2 138.5,734.3 139.0,733.0 C139.4,731.7 139.8,730.4 140.3,729.2 C140.7,727.9 141.2,726.7 141.6,725.4 C142.1,724.1 142.6,722.9 143.0,721.6 C143.5,720.4 144.0,719.1 144.5,717.8 C144.9,716.6 145.4,715.3 145.9,714.1 C146.4,712.8 146.9,711.6 147.4,710.3 C147.9,709.1 148.4,707.8 149.0,706.6 C149.5,705.4 150.0,704.1 150.5,702.9 C151.0,701.6 151.5,700.4 152.1,699.1 C152.6,697.9 153.1,696.7 153.7,695.4 C154.2,694.2 154.7,692.9 155.2,691.7 C155.8,690.5 156.3,689.2 156.9,688.0 C157.4,686.8 157.9,685.5 158.5,684.3 C159.0,683.1 159.5,681.8 160.1,680.6 C160.6,679.3 161.2,678.1 161.7,676.9 C162.2,675.6 162.8,674.4 163.3,673.2 C163.9,671.9 164.4,670.7 164.9,669.5 C165.5,668.2 166.0,667.0 166.5,665.8 C167.1,664.5 167.6,663.3 168.2,662.1 C168.7,660.9 169.2,659.6 169.8,658.4 C170.3,657.2 170.9,656.0 171.5,654.8 C172.0,653.5 172.6,652.3 173.2,651.1 C173.8,649.9 174.3,648.7 174.9,647.5 C175.5,646.4 176.2,645.2 176.8,644.0 C177.4,642.8 178.0,641.7 178.7,640.5 C179.4,639.3 180.0,638.2 180.7,637.1 C181.4,635.9 182.1,634.8 182.8,633.7 C183.5,632.6 184.3,631.5 185.0,630.4 C185.8,629.3 186.6,628.2 187.4,627.1 C188.2,626.1 189.0,625.0 189.9,624.0 C190.7,623.0 191.6,621.9 192.5,620.9 C193.4,619.9 194.3,618.9 195.3,618.0 C196.2,617.0 197.2,616.1 198.2,615.1 C199.2,614.2 200.3,613.3 201.4,612.4 C202.4,611.5 203.5,610.6 204.6,609.8 C205.7,608.9 206.9,608.1 208.0,607.3 C209.2,606.5 210.4,605.8 211.5,605.1 C212.7,604.3 214.0,603.7 215.2,603.0 C216.4,602.4 217.6,601.7 218.9,601.2 C220.1,600.6 221.4,600.1 222.7,599.6 C224.0,599.1 225.2,598.6 226.5,598.2 C227.8,597.8 229.1,597.5 230.4,597.2 C231.7,596.9 233.0,596.6 234.3,596.5 C235.6,596.3 237.0,596.1 238.3,596.0 C239.6,596.0 240.9,595.9 242.2,596.0 C243.5,596.0 244.8,596.1 246.1,596.3 C247.4,596.4 248.7,596.6 250.0,596.9 C251.2,597.2 252.5,597.6 253.7,598.0 C254.9,598.4 256.2,598.8 257.4,599.3 C258.5,599.9 259.7,600.4 260.8,601.1 C262.0,601.7 263.1,602.4 264.1,603.2 C265.2,603.9 266.2,604.8 267.2,605.6 C268.2,606.5 269.1,607.4 270.0,608.4 C270.9,609.3 271.8,610.3 272.7,611.4 C273.6,612.4 274.4,613.5 275.2,614.5 C276.0,615.6 276.8,616.7 277.6,617.8 C278.4,618.9 279.2,620.0 280.0,621.1 C280.7,622.2 281.5,623.3 282.3,624.5 C283.0,625.6 283.7,626.7 284.5,627.8 C285.2,629.0 285.9,630.1 286.6,631.3 C287.3,632.4 288.0,633.5 288.7,634.7 C289.4,635.9 290.1,637.0 290.8,638.2 C291.5,639.3 292.1,640.5 292.8,641.7 C293.4,642.9 294.1,644.0 294.7,645.2 C295.3,646.4 296.0,647.6 296.6,648.8 C297.2,650.0 297.8,651.2 298.4,652.4 C299.0,653.6 299.6,654.8 300.2,656.0 C300.8,657.2 301.4,658.4 302.0,659.6 C302.5,660.9 303.1,662.1 303.7,663.3 C304.2,664.5 304.8,665.8 305.3,667.0 C305.9,668.2 306.4,669.4 306.9,670.7 C307.5,671.9 308.0,673.2 308.5,674.4 C309.0,675.6 309.6,676.9 310.1,678.1 C310.6,679.4 311.1,680.6 311.6,681.9 C312.1,683.1 312.6,684.4 313.1,685.6 C313.6,686.9 314.0,688.2 314.5,689.4 C315.0,690.7 315.5,692.0 315.9,693.2 C316.4,694.5 316.9,695.7 317.3,697.0 C317.8,698.3 318.3,699.6 318.7,700.8 C319.2,702.1 319.6,703.4 320.1,704.6 C320.5,705.9 320.9,707.2 321.4,708.5 C321.8,709.7 322.3,711.0 322.7,712.3 C323.1,713.6 323.6,714.8 324.0,716.1 C324.4,717.4 324.9,718.7 325.3,720.0 C325.7,721.2 326.1,722.5 326.5,723.8 C327.0,725.1 327.4,726.4 327.8,727.6 C328.2,728.9 328.6,730.2 329.1,731.5 C329.5,732.8 329.9,734.0 330.3,735.3 C330.7,736.6 331.1,737.9 331.5,739.1 C331.9,740.4 332.4,741.7 332.8,743.0 C333.2,744.2 333.6,745.5 334.0,746.8 C334.4,748.1 334.8,749.3 335.2,750.6 C335.7,751.9 336.1,753.2 336.5,754.4 C336.9,755.7 337.3,757.0 337.7,758.2 C338.2,759.5 338.6,760.8 339.0,762.0 C339.4,763.3 339.9,764.6 340.3,765.8 C340.7,767.1 341.2,768.4 341.6,769.6 C342.1,770.9 342.5,772.1 343.0,773.4 C343.4,774.7 343.9,775.9 344.3,777.2 C344.8,778.4 345.2,779.7 345.7,780.9 C346.2,782.2 346.6,783.4 347.1,784.7 C347.6,785.9 348.1,787.2 348.6,788.4 C349.1,789.7 349.6,790.9 350.1,792.2 C350.6,793.4 351.1,794.7 351.6,795.9 C352.1,797.1 352.7,798.4 353.2,799.6 C353.7,800.8 354.3,802.1 354.8,803.3 C355.4,804.5 355.9,805.8 356.5,807.0 C357.0,808.2 357.6,809.5 358.2,810.7 C358.7,811.9 359.3,813.2 359.8,814.4 C360.4,815.6 361.0,816.8 361.5,818.1 C362.1,819.3 362.6,820.5 363.2,821.8 C363.7,823.0 364.3,824.2 364.8,825.5 C365.3,826.7 365.9,827.9 366.4,829.2 C366.9,830.4 367.4,831.6 367.9,832.9 C368.4,834.1 369.2,836.0 369.4,836.6"/>
<path d="M135.5,721.0 C135.6,720.3 136.1,718.3 136.4,716.9 C136.7,715.6 137.1,714.3 137.4,713.0 C137.8,711.6 138.1,710.3 138.5,709.0 C138.9,707.8 139.3,706.5 139.7,705.2 C140.1,703.9 140.6,702.7 141.0,701.4 C141.5,700.1 141.9,698.9 142.4,697.6 C142.9,696.4 143.4,695.2 143.9,693.9 C144.3,692.7 144.8,691.5 145.4,690.2 C145.9,689.0 146.4,687.8 146.9,686.6 C147.4,685.4 148.0,684.2 148.5,682.9 C149.1,681.7 149.6,680.5 150.2,679.3 C150.7,678.1 151.3,676.9 151.8,675.7 C152.4,674.5 152.9,673.3 153.5,672.1 C154.1,670.9 154.6,669.7 155.2,668.5 C155.7,667.3 156.3,666.1 156.9,664.8 C157.4,663.6 158.0,662.4 158.5,661.2 C159.1,660.0 159.6,658.7 160.2,657.5 C160.7,656.3 161.3,655.0 161.8,653.8 C162.3,652.6 162.9,651.3 163.4,650.0 C163.9,648.8 164.4,647.5 164.9,646.3 C165.5,645.0 166.0,643.7 166.5,642.5 C167.0,641.2 167.6,640.0 168.1,638.7 C168.7,637.5 169.3,636.2 169.9,635.0 C170.5,633.8 171.1,632.6 171.7,631.4 C172.4,630.2 173.0,629.0 173.8,627.9 C174.5,626.7 175.2,625.6 176.0,624.5 C176.8,623.4 177.7,622.3 178.5,621.3 C179.4,620.3 180.4,619.3 181.4,618.5 C182.3,617.6 183.4,616.8 184.5,616.2 C185.6,615.5 186.7,615.0 187.9,614.5 C189.1,614.1 190.3,613.8 191.5,613.6 C192.8,613.3 194.1,613.2 195.3,613.2 C196.6,613.1 198.0,613.2 199.3,613.3 C200.6,613.4 201.9,613.7 203.3,614.0 C204.6,614.2 205.9,614.6 207.3,615.0 C208.6,615.4 209.9,615.9 211.2,616.5 C212.5,617.0 213.7,617.6 215.0,618.3 C216.2,618.9 217.4,619.6 218.6,620.3 C219.8,621.1 220.9,621.8 222.0,622.6 C223.1,623.4 224.2,624.3 225.2,625.1 C226.2,626.0 227.2,626.9 228.2,627.8 C229.2,628.8 230.2,629.7 231.1,630.7 C232.0,631.7 232.9,632.7 233.8,633.7 C234.7,634.7 235.5,635.7 236.4,636.8 C237.2,637.8 238.0,638.9 238.8,639.9 C239.6,641.0 240.4,642.1 241.2,643.1 C241.9,644.2 242.7,645.3 243.4,646.4 C244.1,647.5 244.8,648.7 245.5,649.8 C246.2,650.9 246.9,652.0 247.6,653.2 C248.2,654.3 248.9,655.5 249.5,656.7 C250.1,657.8 250.7,659.0 251.3,660.2 C251.9,661.4 252.5,662.6 253.1,663.8 C253.6,665.0 254.2,666.2 254.8,667.4 C255.3,668.6 255.8,669.8 256.3,671.0 C256.9,672.3 257.4,673.5 257.9,674.7 C258.4,676.0 258.9,677.2 259.3,678.5 C259.8,679.7 260.3,681.0 260.7,682.3 C261.2,683.5 261.6,684.8 262.1,686.1 C262.5,687.3 263.0,688.6 263.4,689.9 C263.8,691.2 264.2,692.4 264.6,693.7 C265.1,695.0 265.5,696.3 265.9,697.6 C266.3,698.9 266.7,700.2 267.0,701.5 C267.4,702.8 267.8,704.1 268.2,705.4 C268.6,706.7 269.0,708.0 269.3,709.3 C269.7,710.6 270.1,711.9 270.4,713.2 C270.8,714.5 271.2,715.8 271.5,717.1 C271.9,718.4 272.3,719.7 272.6,721.0 C273.0,722.3 273.4,723.6 273.7,724.9 C274.1,726.2 274.4,727.4 274.8,728.7 C275.2,730.0 275.5,731.3 275.9,732.6 C276.2,733.9 276.6,735.2 277.0,736.5 C277.3,737.8 277.7,739.1 278.0,740.4 C278.4,741.7 278.8,743.0 279.1,744.3 C279.5,745.5 279.9,746.8 280.2,748.1 C280.6,749.4 280.9,750.7 281.3,752.0 C281.7,753.3 282.0,754.6 282.4,755.8 C282.7,757.1 283.1,758.4 283.5,759.7 C283.8,761.0 284.2,762.3 284.6,763.5 C284.9,764.8 285.3,766.1 285.7,767.4 C286.0,768.7 286.4,770.0 286.8,771.2 C287.1,772.5 287.5,773.8 287.9,775.1 C288.2,776.4 288.6,777.7 289.0,778.9 C289.3,780.2 289.7,781.5 290.1,782.8 C290.4,784.1 290.8,785.3 291.2,786.6 C291.6,787.9 291.9,789.2 292.3,790.5 C292.7,791.7 293.1,793.0 293.5,794.3 C293.8,795.6 294.2,796.9 294.6,798.1 C295.0,799.4 295.4,800.7 295.8,802.0 C296.1,803.3 296.5,804.5 296.9,805.8 C297.3,807.1 297.7,808.4 298.1,809.7 C298.5,810.9 298.9,812.2 299.3,813.5 C299.7,814.8 300.1,816.1 300.5,817.4 C300.9,818.6 301.3,819.9 301.7,821.2 C302.1,822.5 302.5,823.8 302.9,825.0 C303.3,826.3 303.7,827.6 304.1,828.9 C304.5,830.2 304.9,831.5 305.3,832.7 C305.8,834.0 306.4,836.0 306.6,836.6"/>
<path d="M137.0,720.5 C137.2,719.8 137.6,717.7 138.0,716.3 C138.3,714.9 138.7,713.6 139.1,712.2 C139.5,710.9 139.9,709.6 140.4,708.4 C140.8,707.1 141.3,705.8 141.8,704.6 C142.2,703.4 142.7,702.2 143.3,700.9 C143.8,699.7 144.3,698.5 144.8,697.4 C145.3,696.2 145.8,695.0 146.4,693.8 C146.9,692.6 147.4,691.5 148.0,690.3 C148.5,689.1 149.0,687.9 149.5,686.7 C150.1,685.5 150.6,684.3 151.1,683.1 C151.6,681.9 152.1,680.7 152.6,679.5 C153.0,678.2 153.5,677.0 153.9,675.7 C154.4,674.4 154.8,673.1 155.2,671.8 C155.6,670.4 156.0,669.1 156.4,667.7 C156.7,666.3 157.1,664.9 157.4,663.5 C157.8,662.2 158.2,660.8 158.6,659.4 C159.0,658.0 159.4,656.7 159.8,655.3 C160.3,654.0 160.7,652.7 161.3,651.5 C161.8,650.2 162.4,649.0 163.1,647.8 C163.8,646.7 164.5,645.6 165.3,644.6 C166.1,643.6 167.0,642.6 168.0,641.7 C168.9,640.9 170.0,640.1 171.0,639.4 C172.1,638.7 173.3,638.1 174.4,637.6 C175.6,637.1 176.8,636.7 178.0,636.4 C179.2,636.1 180.4,635.9 181.7,635.9 C182.9,635.8 184.1,635.9 185.3,636.1 C186.5,636.3 187.7,636.6 188.9,637.0 C190.1,637.4 191.3,638.0 192.4,638.6 C193.5,639.2 194.7,640.0 195.8,640.7 C196.9,641.5 198.0,642.4 199.0,643.3 C200.1,644.2 201.1,645.2 202.2,646.2 C203.2,647.2 204.2,648.2 205.2,649.3 C206.2,650.3 207.1,651.4 208.1,652.5 C209.0,653.6 209.9,654.7 210.8,655.7 C211.7,656.8 212.6,657.9 213.4,658.9 C214.3,660.0 215.1,661.0 215.9,662.1 C216.7,663.2 217.5,664.2 218.3,665.3 C219.0,666.4 219.8,667.5 220.5,668.6 C221.2,669.7 221.9,670.8 222.6,671.9 C223.3,673.0 223.9,674.1 224.6,675.3 C225.2,676.4 225.8,677.5 226.4,678.7 C227.0,679.9 227.6,681.0 228.2,682.2 C228.7,683.4 229.3,684.6 229.8,685.8 C230.3,687.0 230.9,688.2 231.4,689.4 C231.9,690.7 232.4,691.9 232.8,693.1 C233.3,694.4 233.8,695.6 234.2,696.9 C234.7,698.1 235.1,699.4 235.5,700.7 C236.0,701.9 236.4,703.2 236.8,704.5 C237.2,705.8 237.6,707.1 238.0,708.4 C238.4,709.6 238.8,710.9 239.2,712.2 C239.5,713.5 239.9,714.8 240.3,716.1 C240.6,717.4 241.0,718.7 241.4,720.0 C241.7,721.4 242.1,722.7 242.4,724.0 C242.8,725.3 243.1,726.6 243.4,727.9 C243.8,729.2 244.1,730.5 244.5,731.8 C244.8,733.1 245.2,734.5 245.5,735.8 C245.8,737.1 246.2,738.4 246.5,739.7 C246.9,741.0 247.2,742.3 247.5,743.6 C247.9,744.9 248.2,746.2 248.6,747.5 C248.9,748.8 249.3,750.1 249.6,751.4 C250.0,752.7 250.3,753.9 250.6,755.2 C251.0,756.5 251.3,757.8 251.7,759.1 C252.0,760.4 252.4,761.7 252.7,763.0 C253.1,764.3 253.4,765.6 253.8,766.8 C254.1,768.1 254.5,769.4 254.8,770.7 C255.1,772.0 255.5,773.3 255.8,774.6 C256.2,775.8 256.5,777.1 256.9,778.4 C257.2,779.7 257.6,781.0 257.9,782.3 C258.3,783.6 258.6,784.8 259.0,786.1 C259.3,787.4 259.7,788.7 260.0,790.0 C260.4,791.3 260.7,792.5 261.1,793.8 C261.4,795.1 261.7,796.4 262.1,797.7 C262.4,799.0 262.8,800.3 263.1,801.6 C263.5,802.8 263.8,804.1 264.2,805.4 C264.5,806.7 264.9,808.0 265.2,809.3 C265.6,810.6 265.9,811.9 266.2,813.2 C266.6,814.5 266.9,815.8 267.3,817.1 C267.6,818.3 268.0,819.6 268.3,820.9 C268.6,822.2 269.0,823.5 269.3,824.8 C269.7,826.1 270.0,827.4 270.4,828.8 C270.7,830.1 271.0,831.4 271.4,832.7 C271.7,834.0 272.2,835.9 272.4,836.6"/>
<path d="M138.2,720.0 C138.4,719.5 139.0,718.2 139.3,717.2 C139.7,716.2 140.1,715.1 140.4,713.9 C140.8,712.7 141.1,711.5 141.5,710.2 C141.9,708.9 142.2,707.5 142.6,706.1 C143.0,704.8 143.4,703.3 143.8,701.9 C144.2,700.5 144.6,699.1 145.1,697.6 C145.6,696.2 146.1,694.8 146.6,693.4 C147.1,692.0 147.7,690.6 148.3,689.2 C149.0,687.9 149.6,686.6 150.3,685.4 C151.0,684.1 151.8,682.9 152.6,681.8 C153.5,680.7 154.4,679.7 155.3,678.8 C156.3,677.9 157.3,677.0 158.4,676.3 C159.4,675.6 160.6,675.0 161.7,674.5 C162.9,674.0 164.1,673.6 165.3,673.4 C166.5,673.2 167.8,673.1 169.0,673.2 C170.3,673.2 171.5,673.4 172.7,673.7 C174.0,674.0 175.2,674.4 176.4,674.9 C177.5,675.4 178.7,676.0 179.8,676.7 C180.9,677.4 181.9,678.2 182.9,679.1 C183.9,680.0 184.8,681.0 185.6,682.0 C186.5,683.0 187.3,684.1 188.1,685.2 C188.8,686.3 189.6,687.5 190.3,688.7 C191.0,689.9 191.7,691.1 192.3,692.3 C193.0,693.5 193.7,694.7 194.3,696.0 C195.0,697.2 195.7,698.4 196.3,699.6 C197.0,700.8 197.6,702.0 198.3,703.2 C198.9,704.4 199.6,705.6 200.2,706.8 C200.8,708.0 201.5,709.2 202.1,710.4 C202.7,711.6 203.3,712.8 203.9,714.0 C204.5,715.2 205.1,716.4 205.7,717.6 C206.3,718.8 206.9,720.0 207.5,721.2 C208.1,722.4 208.6,723.6 209.2,724.8 C209.8,726.0 210.3,727.2 210.8,728.4 C211.4,729.7 211.9,730.9 212.4,732.1 C213.0,733.3 213.5,734.5 214.0,735.7 C214.5,737.0 215.0,738.2 215.4,739.4 C215.9,740.7 216.4,741.9 216.8,743.1 C217.3,744.4 217.7,745.6 218.2,746.9 C218.6,748.2 219.0,749.4 219.4,750.7 C219.8,751.9 220.2,753.2 220.6,754.5 C221.0,755.8 221.3,757.1 221.7,758.3 C222.1,759.6 222.4,760.9 222.7,762.2 C223.1,763.5 223.4,764.8 223.8,766.1 C224.1,767.4 224.4,768.7 224.7,770.0 C225.0,771.3 225.4,772.6 225.7,774.0 C226.0,775.3 226.3,776.6 226.6,777.9 C226.9,779.2 227.2,780.5 227.4,781.9 C227.7,783.2 228.0,784.5 228.3,785.8 C228.6,787.1 228.9,788.5 229.2,789.8 C229.5,791.1 229.7,792.4 230.0,793.8 C230.3,795.1 230.6,796.4 230.9,797.7 C231.2,799.0 231.5,800.4 231.7,801.7 C232.0,803.0 232.3,804.3 232.6,805.6 C232.9,807.0 233.2,808.3 233.5,809.6 C233.8,810.9 234.2,812.2 234.5,813.5 C234.8,814.8 235.1,816.1 235.5,817.4 C235.8,818.7 236.1,820.0 236.5,821.3 C236.8,822.6 237.2,823.9 237.5,825.2 C237.9,826.5 238.3,827.7 238.7,829.0 C239.0,830.3 239.4,831.6 239.8,832.8 C240.3,834.1 240.9,836.0 241.1,836.6"/>
<path d="M128.8,766.8 C129.1,766.2 129.9,764.6 130.4,763.4 C130.9,762.2 131.2,760.9 131.6,759.6 C132.0,758.4 132.3,757.0 132.7,755.7 C133.0,754.4 133.3,753.0 133.7,751.7 C134.1,750.3 134.5,748.9 134.9,747.6 C135.4,746.3 135.9,745.0 136.6,743.7 C137.2,742.4 137.9,741.1 138.7,740.0 C139.5,738.9 140.5,737.7 141.4,736.8 C142.4,735.9 143.4,735.1 144.4,734.7 C145.5,734.2 146.5,733.9 147.6,734.0 C148.6,734.0 149.7,734.5 150.7,735.0 C151.7,735.6 152.7,736.5 153.7,737.4 C154.7,738.3 155.7,739.4 156.6,740.5 C157.6,741.5 158.5,742.7 159.4,743.7 C160.3,744.8 161.2,745.9 162.1,747.0 C162.9,748.0 163.8,749.1 164.6,750.2 C165.4,751.3 166.2,752.4 167.0,753.5 C167.7,754.6 168.4,755.7 169.2,756.8 C169.9,757.9 170.5,759.1 171.2,760.2 C171.8,761.4 172.5,762.5 173.1,763.7 C173.7,764.9 174.3,766.1 174.8,767.3 C175.4,768.5 175.9,769.7 176.5,770.9 C177.0,772.1 177.5,773.3 178.0,774.6 C178.5,775.8 178.9,777.0 179.4,778.3 C179.8,779.5 180.3,780.8 180.7,782.1 C181.1,783.3 181.5,784.6 181.9,785.9 C182.3,787.1 182.7,788.4 183.1,789.7 C183.4,791.0 183.8,792.3 184.1,793.6 C184.5,794.9 184.8,796.1 185.2,797.4 C185.5,798.7 185.8,800.1 186.1,801.4 C186.4,802.7 186.8,804.0 187.1,805.3 C187.4,806.6 187.7,807.9 188.0,809.2 C188.2,810.5 188.5,811.8 188.8,813.2 C189.1,814.5 189.4,815.8 189.7,817.1 C190.0,818.4 190.3,819.7 190.6,821.0 C190.8,822.3 191.1,823.6 191.4,824.9 C191.7,826.3 192.0,827.6 192.3,828.9 C192.6,830.2 192.9,831.5 193.2,832.7 C193.6,834.0 194.0,836.0 194.2,836.6"/>
</g>
<g fill="#2a6bbb" font-size="9.5" stroke="#2a6bbb" stroke-width="0.42">
<text x="114.5" y="578" >Airflow / Static Efficiency</text>
<text x="84" y="583.3" >40</text>
<text x="84" y="647.3" >30</text>
<text x="84" y="711.4" >20</text>
<text x="84" y="775.4" >10.0</text>
<text x="84" y="839.3" >0.0</text>
<text x="115" y="847" >Airflow [ m³/h ]</text>
<text x="112" y="858.5" >0.0</text>
<text x="159" y="858.5" font-size="9.2">1000</text>
<text x="204" y="858.5" font-size="9.2">2000</text>
<text x="253.8" y="858.5" font-size="9.2">3000</text>
<text x="303.6" y="858.5" font-size="9.2">4000</text>
<text x="353.4" y="858.5" font-size="9.2">5000</text>
<text x="403.2" y="858.5" font-size="9.2">6000</text>
<text x="0" y="0" transform="translate(109.6,833) rotate(-90)">Static Efficiency [ % ]</text>
<text x="158" y="829.3" >655 1/min</text>
<text x="205" y="823" >910 1/min</text>
<text x="237.3" y="823" >1054 1/min</text>
<text x="271" y="829.6" >1172 1/min</text>
<text x="334" y="823" >1356 1/min</text>
<text x="345.6" y="829.6" >1384 1/min</text>
</g>
<g class="g" stroke="#b4c0c6">
<line x1="583.5" y1="588.2" x2="583.5" y2="830.6"/>
<line x1="630.6" y1="588.2" x2="630.6" y2="830.6"/>
<line x1="677.7" y1="588.2" x2="677.7" y2="830.6"/>
<line x1="724.8" y1="588.2" x2="724.8" y2="830.6"/>
<line x1="771.9" y1="588.2" x2="771.9" y2="830.6"/>
<line x1="819.0" y1="588.2" x2="819.0" y2="830.6"/>
<line x1="866.1" y1="588.2" x2="866.1" y2="830.6"/>
<line x1="583.5" y1="588.2" x2="866.1" y2="588.2"/>
<line x1="583.5" y1="636.7" x2="866.1" y2="636.7"/>
<line x1="583.5" y1="685.2" x2="866.1" y2="685.2"/>
<line x1="583.5" y1="733.6" x2="866.1" y2="733.6"/>
<line x1="583.5" y1="782.1" x2="866.1" y2="782.1"/>
<line x1="583.5" y1="830.6" x2="866.1" y2="830.6"/>
</g>
<path class="g" stroke="#7d8f9a" d="M583.5,588.2 V830.6 H866.1"/>
<g class="c" stroke="#9e2a60" stroke-width="1.4">
<path d="M605.5,790.0 C606.1,789.7 608.0,789.0 609.2,788.4 C610.4,787.9 611.7,787.4 612.9,786.9 C614.1,786.4 615.3,785.8 616.6,785.3 C617.8,784.8 619.0,784.3 620.2,783.7 C621.5,783.2 622.7,782.6 623.9,782.1 C625.1,781.6 626.4,781.0 627.6,780.5 C628.8,779.9 630.0,779.4 631.2,778.9 C632.5,778.3 633.7,777.8 634.9,777.2 C636.1,776.6 637.3,776.1 638.5,775.5 C639.8,775.0 641.0,774.4 642.2,773.8 C643.4,773.3 644.6,772.7 645.8,772.1 C647.0,771.6 648.2,771.0 649.4,770.4 C650.6,769.8 651.8,769.2 653.0,768.7 C654.2,768.1 655.4,767.5 656.6,766.9 C657.8,766.3 659.0,765.7 660.2,765.1 C661.4,764.5 662.6,763.9 663.8,763.3 C665.0,762.7 666.2,762.1 667.4,761.5 C668.5,760.9 669.7,760.3 670.9,759.6 C672.1,759.0 673.3,758.4 674.4,757.8 C675.6,757.1 676.8,756.5 678.0,755.9 C679.1,755.2 680.3,754.6 681.5,753.9 C682.6,753.3 683.8,752.7 685.0,752.0 C686.1,751.4 687.3,750.7 688.5,750.0 C689.6,749.4 690.8,748.7 691.9,748.0 C693.1,747.4 694.2,746.7 695.4,746.0 C696.5,745.3 697.7,744.7 698.8,744.0 C699.9,743.3 701.1,742.6 702.2,741.9 C703.4,741.2 704.5,740.5 705.6,739.8 C706.7,739.1 707.9,738.4 709.0,737.7 C710.1,737.0 711.2,736.3 712.4,735.5 C713.5,734.8 714.6,734.1 715.7,733.4 C716.8,732.6 717.9,731.9 719.0,731.1 C720.1,730.4 721.2,729.7 722.3,728.9 C723.4,728.1 724.5,727.4 725.6,726.6 C726.7,725.9 727.8,725.1 728.9,724.3 C729.9,723.5 731.0,722.8 732.1,722.0 C733.2,721.2 734.2,720.4 735.3,719.6 C736.4,718.8 737.5,718.0 738.5,717.2 C739.6,716.4 740.6,715.6 741.7,714.8 C742.7,714.0 743.8,713.2 744.9,712.4 C745.9,711.5 746.9,710.7 748.0,709.9 C749.0,709.1 750.1,708.2 751.1,707.4 C752.2,706.5 753.2,705.7 754.2,704.9 C755.3,704.0 756.3,703.2 757.3,702.3 C758.4,701.5 759.4,700.6 760.4,699.8 C761.4,698.9 762.5,698.1 763.5,697.2 C764.5,696.3 765.5,695.5 766.5,694.6 C767.6,693.7 768.6,692.9 769.6,692.0 C770.6,691.1 771.6,690.3 772.6,689.4 C773.6,688.5 774.6,687.6 775.7,686.7 C776.7,685.9 777.7,685.0 778.7,684.1 C779.7,683.2 780.7,682.3 781.7,681.5 C782.7,680.6 783.7,679.7 784.7,678.8 C785.7,677.9 786.7,677.0 787.7,676.1 C788.7,675.3 789.7,674.4 790.7,673.5 C791.7,672.6 792.7,671.7 793.7,670.8 C794.7,669.9 795.7,669.0 796.7,668.1 C797.7,667.2 798.7,666.4 799.7,665.5 C800.7,664.6 801.7,663.7 802.7,662.8 C803.7,661.9 804.7,661.0 805.7,660.1 C806.7,659.2 807.7,658.4 808.7,657.5 C809.7,656.6 810.7,655.7 811.7,654.8 C812.7,653.9 813.7,653.1 814.7,652.2 C815.7,651.3 816.7,650.4 817.7,649.5 C818.7,648.7 819.8,647.8 820.8,646.9 C821.8,646.0 822.8,645.2 823.8,644.3 C824.8,643.4 825.8,642.6 826.8,641.7 C827.8,640.8 828.9,640.0 829.9,639.1 C830.9,638.3 831.9,637.4 832.9,636.5 C833.9,635.7 835.5,634.4 836.0,634.0"/>
<path d="M605.5,795.8 C606.1,795.6 608.0,795.0 609.3,794.5 C610.6,794.1 611.8,793.6 613.1,793.2 C614.3,792.7 615.5,792.2 616.8,791.7 C618.0,791.2 619.3,790.7 620.5,790.2 C621.7,789.7 622.9,789.1 624.2,788.6 C625.4,788.1 626.6,787.5 627.8,787.0 C629.0,786.4 630.2,785.9 631.4,785.3 C632.7,784.7 633.9,784.1 635.1,783.6 C636.3,783.0 637.5,782.4 638.7,781.8 C639.9,781.2 641.1,780.6 642.2,780.0 C643.4,779.4 644.6,778.8 645.8,778.2 C647.0,777.6 648.2,776.9 649.4,776.3 C650.6,775.7 651.8,775.1 653.0,774.5 C654.2,773.8 655.3,773.2 656.5,772.6 C657.7,772.0 658.9,771.3 660.1,770.7 C661.3,770.1 662.5,769.5 663.7,768.8 C664.8,768.2 666.0,767.6 667.2,767.0 C668.4,766.3 669.6,765.7 670.8,765.1 C671.9,764.4 673.1,763.8 674.3,763.2 C675.5,762.5 676.7,761.9 677.8,761.3 C679.0,760.6 680.2,760.0 681.4,759.3 C682.6,758.7 683.7,758.0 684.9,757.4 C686.1,756.7 687.2,756.1 688.4,755.4 C689.6,754.8 690.7,754.1 691.9,753.4 C693.0,752.8 694.2,752.1 695.4,751.4 C696.5,750.8 697.7,750.1 698.8,749.4 C700.0,748.7 701.1,748.0 702.2,747.3 C703.4,746.6 704.5,745.9 705.6,745.2 C706.8,744.5 707.9,743.8 709.0,743.1 C710.2,742.4 711.3,741.6 712.4,740.9 C713.5,740.2 714.6,739.4 715.7,738.7 C716.8,737.9 717.9,737.2 719.0,736.4 C720.1,735.7 721.2,734.9 722.3,734.1 C723.4,733.3 724.5,732.6 725.5,731.8 C726.6,731.0 727.7,730.2 728.8,729.4 C729.8,728.6 730.9,727.8 732.0,727.0 C733.0,726.2 734.1,725.4 735.1,724.6 C736.2,723.7 737.2,722.9 738.3,722.1 C739.3,721.3 740.4,720.4 741.4,719.6 C742.5,718.8 743.5,717.9 744.6,717.1 C745.6,716.2 746.6,715.4 747.7,714.5 C748.7,713.7 749.7,712.8 750.8,712.0 C751.8,711.1 752.8,710.3 753.9,709.4 C754.9,708.6 755.9,707.7 756.9,706.8 C758.0,706.0 759.0,705.1 760.0,704.3 C761.0,703.4 762.1,702.5 763.1,701.7 C764.1,700.8 765.1,699.9 766.2,699.1 C767.2,698.2 768.2,697.3 769.2,696.5 C770.2,695.6 771.3,694.7 772.3,693.8 C773.3,693.0 774.3,692.1 775.3,691.2 C776.4,690.4 777.4,689.5 778.4,688.6 C779.4,687.8 780.4,686.9 781.5,686.1 C782.5,685.2 783.5,684.3 784.5,683.5 C785.5,682.6 786.6,681.7 787.6,680.9 C788.6,680.0 789.6,679.1 790.7,678.3 C791.7,677.4 792.7,676.5 793.7,675.7 C794.7,674.8 795.8,674.0 796.8,673.1 C797.8,672.2 798.8,671.4 799.9,670.5 C800.9,669.6 801.9,668.8 802.9,667.9 C804.0,667.1 805.0,666.2 806.0,665.3 C807.0,664.5 808.0,663.6 809.1,662.7 C810.1,661.9 811.1,661.0 812.1,660.2 C813.2,659.3 814.2,658.4 815.2,657.6 C816.2,656.7 817.2,655.8 818.3,655.0 C819.3,654.1 820.3,653.3 821.3,652.4 C822.4,651.5 823.9,650.2 824.4,649.8"/>
<path d="M604.0,803.0 C604.6,802.8 606.5,802.0 607.7,801.5 C609.0,800.9 610.2,800.4 611.5,799.9 C612.7,799.4 614.0,798.8 615.2,798.3 C616.4,797.7 617.7,797.2 618.9,796.7 C620.1,796.1 621.4,795.6 622.6,795.0 C623.8,794.5 625.0,793.9 626.3,793.3 C627.5,792.8 628.7,792.2 630.0,791.6 C631.2,791.1 632.4,790.5 633.6,789.9 C634.8,789.3 636.1,788.8 637.3,788.2 C638.5,787.6 639.7,787.0 640.9,786.4 C642.1,785.8 643.4,785.2 644.6,784.6 C645.8,784.0 647.0,783.4 648.2,782.8 C649.4,782.2 650.6,781.6 651.8,781.0 C653.0,780.4 654.2,779.8 655.4,779.2 C656.6,778.6 657.9,778.0 659.1,777.3 C660.3,776.7 661.5,776.1 662.7,775.5 C663.9,774.9 665.1,774.2 666.3,773.6 C667.5,773.0 668.6,772.4 669.8,771.7 C671.0,771.1 672.2,770.5 673.4,769.8 C674.6,769.2 675.8,768.5 677.0,767.9 C678.2,767.3 679.4,766.6 680.6,766.0 C681.8,765.3 683.0,764.7 684.2,764.1 C685.3,763.4 686.5,762.8 687.7,762.1 C688.9,761.5 690.1,760.8 691.3,760.2 C692.5,759.5 693.7,758.9 694.8,758.2 C696.0,757.6 697.2,756.9 698.4,756.2 C699.6,755.6 700.7,754.9 701.9,754.3 C703.1,753.6 704.3,752.9 705.5,752.3 C706.7,751.6 707.8,751.0 709.0,750.3 C710.2,749.6 711.4,749.0 712.5,748.3 C713.7,747.6 714.9,746.9 716.1,746.3 C717.2,745.6 718.4,744.9 719.6,744.3 C720.8,743.6 721.9,742.9 723.1,742.2 C724.3,741.6 725.4,740.9 726.6,740.2 C727.8,739.5 728.9,738.8 730.1,738.1 C731.3,737.5 732.4,736.8 733.6,736.1 C734.8,735.4 735.9,734.7 737.1,734.0 C738.3,733.3 739.4,732.7 740.6,732.0 C741.7,731.3 742.9,730.6 744.1,729.9 C745.2,729.2 746.4,728.5 747.5,727.8 C748.7,727.1 749.8,726.4 751.0,725.7 C752.2,725.0 753.3,724.3 754.5,723.6 C755.6,722.9 756.8,722.2 757.9,721.5 C759.1,720.8 760.2,720.0 761.4,719.3 C762.5,718.6 764.2,717.6 764.8,717.2"/>
<path d="M603.5,804.3 C604.1,804.1 606.0,803.5 607.3,803.0 C608.6,802.6 609.8,802.1 611.1,801.7 C612.4,801.2 613.6,800.8 614.9,800.3 C616.1,799.8 617.4,799.4 618.6,798.9 C619.9,798.4 621.1,797.9 622.3,797.4 C623.6,796.9 624.8,796.4 626.0,795.9 C627.3,795.4 628.5,794.9 629.7,794.3 C631.0,793.8 632.2,793.3 633.4,792.7 C634.7,792.2 635.9,791.7 637.1,791.1 C638.3,790.6 639.5,790.0 640.8,789.5 C642.0,788.9 643.2,788.4 644.4,787.8 C645.6,787.3 646.8,786.7 648.1,786.1 C649.3,785.6 650.5,785.0 651.7,784.4 C652.9,783.9 654.1,783.3 655.3,782.7 C656.6,782.1 657.8,781.6 659.0,781.0 C660.2,780.4 661.4,779.8 662.6,779.3 C663.8,778.7 665.0,778.1 666.2,777.5 C667.4,777.0 668.7,776.4 669.9,775.8 C671.1,775.2 672.3,774.7 673.5,774.1 C674.7,773.5 675.9,773.0 677.1,772.4 C678.3,771.8 679.6,771.3 680.8,770.7 C682.0,770.1 683.2,769.6 684.4,769.0 C685.6,768.5 686.9,767.9 688.1,767.4 C689.3,766.8 690.5,766.3 691.7,765.7 C693.0,765.2 694.2,764.6 695.4,764.1 C696.7,763.6 697.9,763.0 699.1,762.5 C700.3,762.0 701.6,761.5 702.8,761.0 C704.1,760.5 705.3,760.0 706.5,759.5 C707.8,759.0 709.0,758.5 710.3,758.0 C711.5,757.5 712.8,757.1 714.0,756.6 C715.3,756.1 716.5,755.7 717.8,755.2 C719.1,754.8 720.3,754.3 721.6,753.9 C722.9,753.5 724.1,753.1 725.4,752.6 C726.7,752.2 728.0,751.8 729.2,751.4 C730.5,751.0 732.5,750.5 733.1,750.3"/>
<path d="M602.0,807.7 C602.6,807.5 604.6,806.8 605.8,806.3 C607.1,805.9 608.4,805.4 609.7,805.0 C610.9,804.5 612.2,804.0 613.5,803.6 C614.8,803.1 616.0,802.6 617.3,802.1 C618.6,801.7 619.9,801.2 621.2,800.7 C622.4,800.3 623.7,799.8 625.0,799.3 C626.3,798.8 627.5,798.4 628.8,797.9 C630.1,797.4 631.4,796.9 632.7,796.5 C633.9,796.0 635.2,795.5 636.5,795.1 C637.8,794.6 639.1,794.1 640.3,793.7 C641.6,793.2 642.9,792.8 644.2,792.3 C645.5,791.9 646.8,791.4 648.0,791.0 C649.3,790.5 650.6,790.1 651.9,789.7 C653.2,789.2 654.5,788.8 655.8,788.4 C657.1,788.0 658.4,787.6 659.7,787.2 C661.0,786.8 662.3,786.4 663.6,786.0 C664.9,785.6 666.2,785.2 667.5,784.8 C668.8,784.4 670.1,784.1 671.4,783.7 C672.7,783.4 674.0,783.0 675.3,782.7 C676.7,782.3 678.0,782.0 679.3,781.7 C680.6,781.4 681.9,781.1 683.3,780.8 C684.6,780.5 685.9,780.2 687.3,779.9 C688.6,779.6 689.9,779.4 691.3,779.1 C692.6,778.9 693.9,778.7 695.3,778.4 C696.6,778.2 698.0,778.0 699.3,777.8 C700.7,777.6 702.7,777.4 703.4,777.3"/>
<path d="M597.0,814.8 C597.7,814.6 599.7,814.0 601.0,813.6 C602.4,813.2 603.7,812.9 605.1,812.5 C606.4,812.2 607.8,811.9 609.1,811.6 C610.5,811.3 611.9,811.0 613.2,810.8 C614.6,810.5 616.0,810.3 617.3,810.1 C618.7,809.9 620.1,809.7 621.5,809.5 C622.9,809.4 624.2,809.2 625.6,809.0 C627.0,808.9 628.4,808.8 629.8,808.6 C631.2,808.5 632.6,808.4 634.0,808.3 C635.3,808.2 636.7,808.1 638.1,808.0 C639.5,808.0 640.9,807.9 642.3,807.8 C643.7,807.7 645.1,807.7 646.5,807.6 C647.9,807.6 649.3,807.5 650.7,807.5 C652.1,807.4 653.4,807.4 654.8,807.3 C656.2,807.3 658.3,807.2 659.0,807.2"/>
</g>
<g fill="#27528a" font-size="8.9" stroke="#27528a" stroke-width="0.28">
<text x="583.6" y="585.4" >Airflow / Absorbed Power</text>
<text x="555.5" y="590.2" >5000</text>
<text x="555.5" y="638.7" >4000</text>
<text x="555.5" y="687.3" >3000</text>
<text x="555.5" y="735.5" >2000</text>
<text x="555.5" y="784.2" >1000</text>
<text x="555.5" y="833" >0.0</text>
<text x="584" y="841" >Airflow [ m³/h ]</text>
<text x="581" y="851.3" >0.0</text>
<text x="626" y="851.3" >1000</text>
<text x="668.3" y="851.3" >2000</text>
<text x="715.3" y="851.3" >3000</text>
<text x="762.3" y="851.3" >4000</text>
<text x="809.3" y="851.3" >5000</text>
<text x="856.3" y="851.3" >6000</text>
<text x="0" y="0" transform="translate(579.5,827) rotate(-90)">Power [ W ]</text>
<text x="624.6" y="804.8" >655 1/min</text>
<text x="669.6" y="772" >910 1/min</text>
<text x="699.6" y="745" >1054 1/min</text>
<text x="731" y="714.6" >1172 1/min</text>
<text x="791" y="644.6" >1356 1/min</text>
<text x="802.2" y="631" >1384 1/min</text>
</g>
</svg>
</body></html>
